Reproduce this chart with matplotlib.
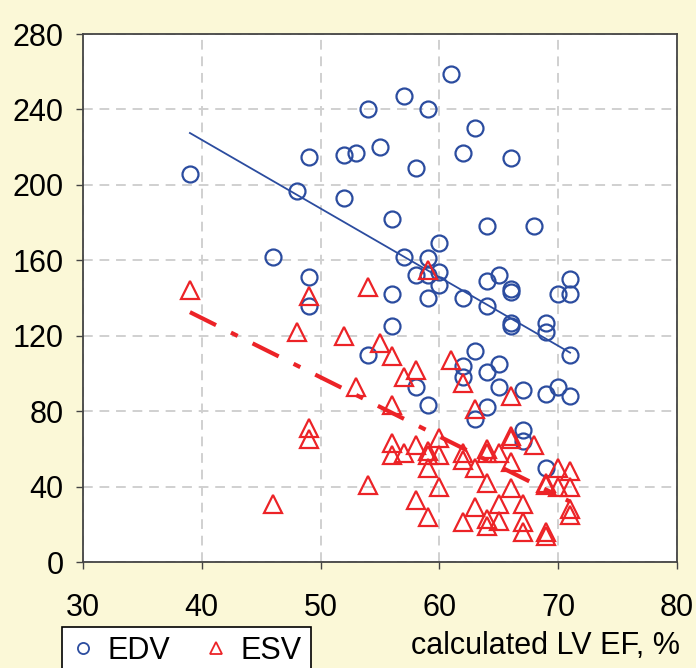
import matplotlib.pyplot as plt
from matplotlib.lines import Line2D

# EDV points (calculated LV EF, %  vs  volume)
edv_x = [39, 46, 48, 49, 49, 49, 52, 53, 52, 54, 55, 57, 59, 61, 63, 62, 58, 66,
         56, 64, 68, 60, 57, 59, 58, 59, 60, 60, 59, 56, 56, 54, 58, 59,
         64, 65, 66, 66, 62, 64, 66, 66, 69, 69, 71, 70, 71, 71,
         63, 62, 62, 64, 65, 65, 67, 69, 70, 71, 64, 63, 67, 67, 69]
edv_y = [206, 162, 197, 215, 151, 136, 216, 217, 193, 240, 220, 247, 240, 259, 230, 217, 209, 214,
         182, 178, 178, 169, 162, 161, 152, 152, 154, 147, 140, 142, 125, 110, 93, 83,
         149, 152, 145, 143, 140, 136, 127, 125, 127, 122, 150, 142, 142, 110,
         112, 104, 98, 101, 105, 93, 91, 89, 93, 88, 82, 76, 70, 64, 50]

# ESV points
esv_x = [39, 46, 48, 49, 49, 49, 52, 53, 54, 54, 55, 56, 57, 58, 56, 59, 61, 62,
         66, 63, 56, 56, 57, 58, 59, 59, 60, 60, 59, 60, 58, 59, 62, 62, 63,
         64, 64, 65, 64, 63, 62, 64, 64, 65, 66, 66, 68, 66, 70, 71, 69, 69,
         70, 71, 66, 65, 67, 71, 71, 67, 67, 69, 69]
esv_y = [144, 31, 122, 141, 71, 65, 120, 93, 146, 41, 116, 109, 98, 102, 83, 155, 107, 95,
         88, 81, 63, 57, 58, 62, 59, 57, 66, 57, 50, 40, 33, 24, 58, 54, 50,
         60, 58, 58, 42, 29, 21, 23, 19, 22, 67, 65, 62, 53, 50, 48, 42, 41,
         40, 40, 39, 31, 31, 28, 25, 21, 16, 16, 14]

# trend lines
edv_fit_x = [39, 71]
edv_fit_y = [227.5, 111]
esv_fit_x = [39, 71]
esv_fit_y = [132.5, 32]

xticks = [30, 40, 50, 60, 70, 80]
yticks = [0, 40, 80, 120, 160, 200, 240, 280]

blue = "#2B4C9F"
red = "#EC2327"
bg = "#FBF8D7"

plt.rcParams["font.family"] = ["Liberation Sans", "DejaVu Sans"]

fig = plt.figure(figsize=(6.96, 6.68), dpi=100, facecolor=bg)
ax = fig.add_axes([83 / 696, 106 / 668, 594 / 696, 528 / 668])
ax.set_facecolor("white")

ax.grid(True, color="#D0D0D0", linestyle=(0, (5, 3.5)), linewidth=1.4)
ax.set_axisbelow(True)

ax.plot(edv_fit_x, edv_fit_y, color=blue, linewidth=1.3, zorder=3)
ax.plot(esv_fit_x, esv_fit_y, color=red, linewidth=3.0, solid_capstyle="butt",
        dash_capstyle="butt", dashes=(7, 4, 1.8, 4), zorder=3)

ax.plot(edv_x, edv_y, linestyle="none", marker="o", markersize=11.5,
        markerfacecolor="none", markeredgecolor=blue, markeredgewidth=1.6, zorder=4)
ax.plot(esv_x, esv_y, linestyle="none", marker="^", markersize=12.5,
        markerfacecolor="none", markeredgecolor=red, markeredgewidth=1.6, zorder=4)

ax.set_xlim(30, 80)
ax.set_ylim(0, 280)
ax.set_xticks(xticks)
ax.set_yticks(yticks)
ax.tick_params(axis="both", labelsize=22, direction="out", length=5,
               width=1, color="#444444")
ax.tick_params(axis="x", pad=17)
ax.tick_params(axis="y", pad=9)
for s in ax.spines.values():
    s.set_color("#444444")
    s.set_linewidth(1.3)

fig.text(680 / 696, 1 - 646 / 668, "calculated LV EF, %", fontsize=22,
         ha="right", va="center")

handles = [
    Line2D([], [], linestyle="none", marker="o", markersize=8, markerfacecolor="none",
           markeredgecolor=blue, markeredgewidth=1.3, label="EDV"),
    Line2D([], [], linestyle="none", marker="^", markersize=9, markerfacecolor="none",
           markeredgecolor=red, markeredgewidth=1.3, label="ESV"),
]
leg = fig.legend(handles=handles, ncol=2, loc="upper left",
                 bbox_to_anchor=(62 / 696, 1 - 627 / 668), fontsize=22,
                 frameon=True, fancybox=False, edgecolor="black", framealpha=1,
                 handlelength=0.8, handletextpad=0.4, columnspacing=1.1,
                 borderpad=0.3, borderaxespad=0)
leg.get_frame().set_linewidth(1.2)

plt.savefig("out.png", dpi=100, facecolor=bg)
